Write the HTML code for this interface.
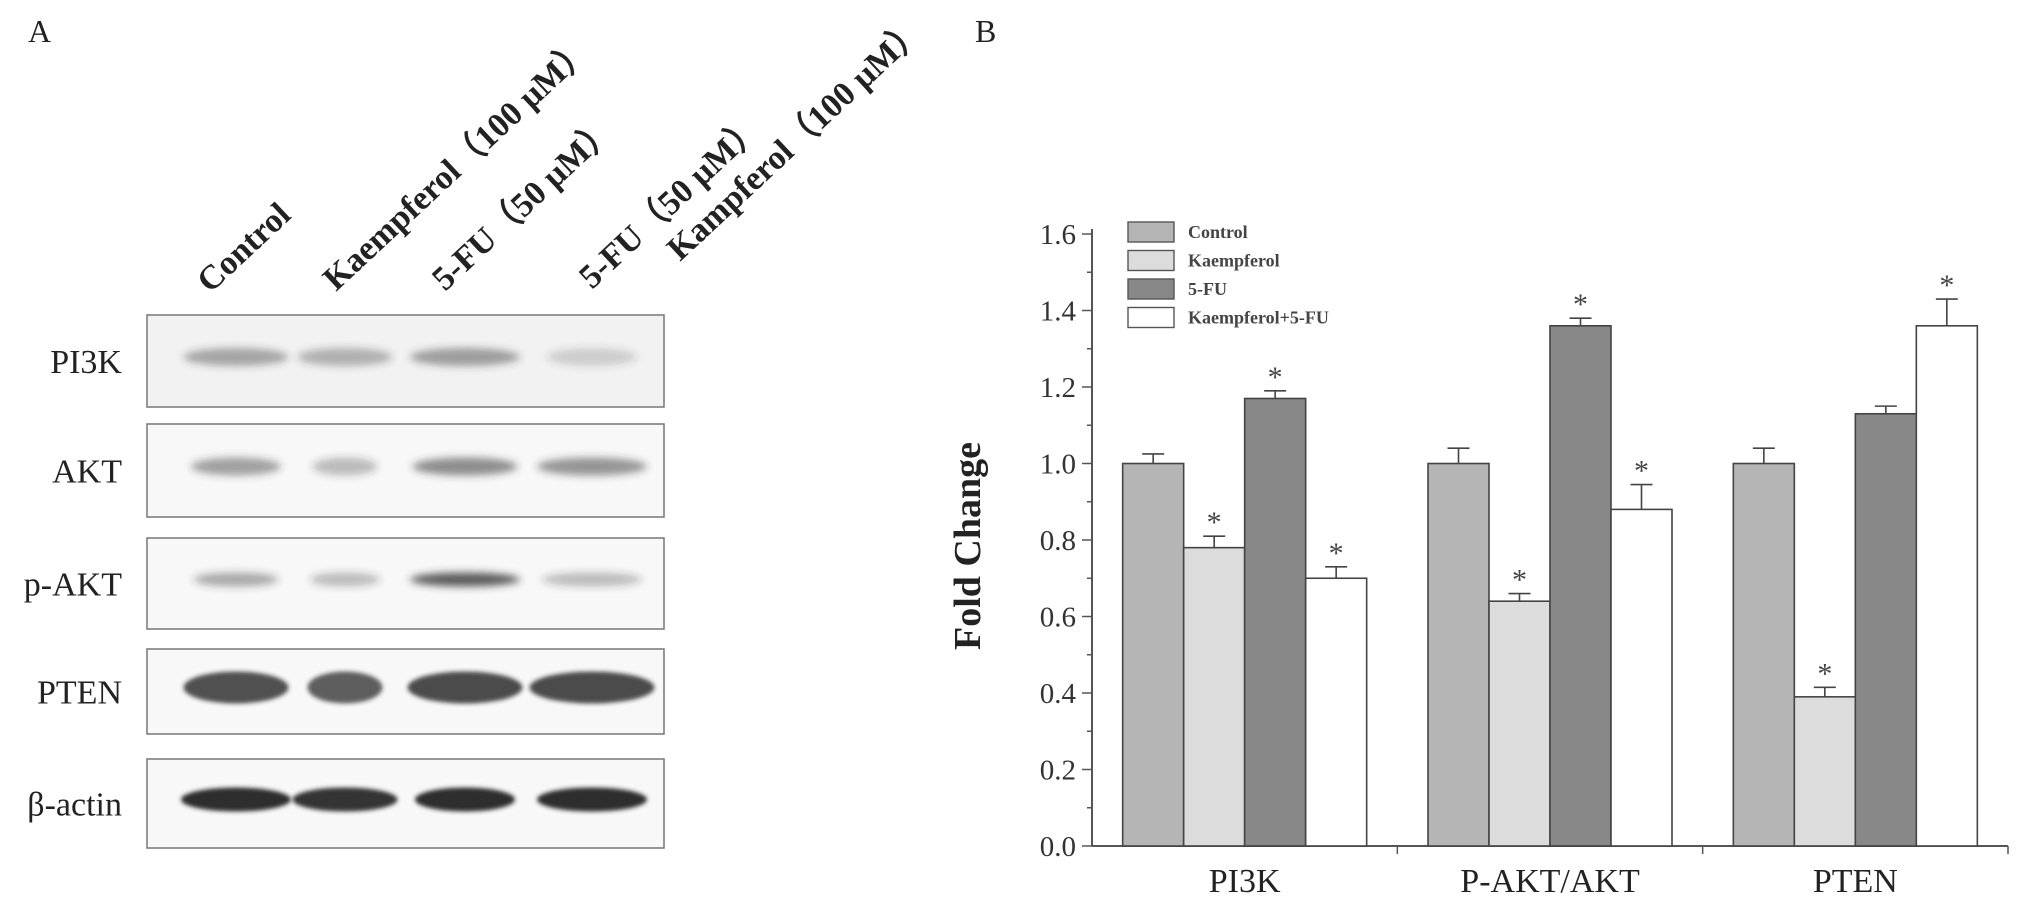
<!DOCTYPE html>
<html><head><meta charset="utf-8"><style>
html,body{margin:0;padding:0;background:#fff;width:2031px;height:900px;overflow:hidden}
svg{display:block;font-family:"Liberation Serif",serif}
</style></head><body>
<svg id="root" width="2031" height="900" viewBox="0 0 2031 900">
<defs>
<filter id="blur4" x="-20%" y="-100%" width="140%" height="300%"><feGaussianBlur stdDeviation="4"/></filter>
<filter id="blur2" x="-20%" y="-100%" width="140%" height="300%"><feGaussianBlur stdDeviation="2"/></filter>
</defs>
<g>
<text x="28" y="42" font-size="32" fill="#222">A</text>
<g font-size="34" font-weight="bold" fill="#222">
<text transform="translate(210,294) rotate(-43)">Control</text>
<text transform="translate(336,292) rotate(-43)">Kaempferol（100 µM）</text>
<text transform="translate(445,292) rotate(-43)">5-FU（50 µM）</text>
<text transform="translate(592,290) rotate(-43)">5-FU（50 µM）</text>
<text transform="translate(680,262) rotate(-43)">Kampferol（100 µM）</text>
</g>
<g id="blots"></g>
</g>
<g>
<text x="975" y="42" font-size="32" fill="#222">B</text>
<text transform="translate(980,546) rotate(-90)" text-anchor="middle" font-size="38" font-weight="bold" fill="#222">Fold Change</text>
<g id="chart"></g>
</g>
</svg>
<script>
const NS='http://www.w3.org/2000/svg';
function mk(tag,attrs,parent){const e=document.createElementNS(NS,tag);for(const k in attrs)e.setAttribute(k,attrs[k]);parent.appendChild(e);return e;}
// ---- chart data ----
const categories=['PI3K','P-AKT/AKT','PTEN'];
const seriesNames=['Control','Kaempferol','5-FU','Kaempferol+5-FU'];
const controlVals=[1.0,1.0,1.0];
const kaempVals=[0.78,0.64,0.39];
const fuVals=[1.17,1.36,1.13];
const comboVals=[0.70,0.88,1.36];
const controlErr=[0.025,0.04,0.04];
const kaempErr=[0.03,0.02,0.025];
const fuErr=[0.02,0.02,0.02];
const comboErr=[0.03,0.065,0.07];
const controlSig=[false,false,false];
const kaempSig=[true,true,true];
const fuSig=[true,true,false];
const comboSig=[true,true,true];
const yTicks=['0.0','0.2','0.4','0.6','0.8','1.0','1.2','1.4','1.6'];
// ---- layout ----
const X0=1092,X1=2008,Y0=846,YTOP=234,YMAX=1.6;
const colors=['#b5b5b5','#dcdcdc','#888888','#ffffff'];
const yS=v=>Y0-(v/YMAX)*(Y0-YTOP);
const groupW=(X1-X0)/categories.length;
const barW=61;
const xS=(g,s)=>X0+groupW*(g+0.5)-2*barW+s*barW;
const chart=document.getElementById('chart');
const allVals=[controlVals,kaempVals,fuVals,comboVals];
const allErr=[controlErr,kaempErr,fuErr,comboErr];
const allSig=[controlSig,kaempSig,fuSig,comboSig];
const seriesKeys=['control','kaempferol','5fu','combo'];
let ax=mk('line',{x1:X0,y1:Y0,x2:X0,y2:YTOP-5,stroke:'#555','stroke-width':2},chart);

let xa=mk('line',{x1:X0,y1:Y0,x2:X1,y2:Y0,stroke:'#555','stroke-width':2},chart);

for(let i=0;i<=16;i++){
  const v=i*0.1,y=yS(v);
  const t=mk('line',{x1:X0-(i%2?5:10),y1:y,x2:X0,y2:y,stroke:'#555','stroke-width':1.5},chart);
  
}
yTicks.forEach((lab,i)=>{
  const v=parseFloat(lab);
  const t=mk('text',{x:X0-16,y:yS(v)+10,'text-anchor':'end','font-size':29,fill:'#333'},chart);
  t.textContent=lab;
  
});
for(let g=1;g<=categories.length;g++){
  const x=X0+groupW*g;
  const t=mk('line',{x1:x,y1:Y0,x2:x,y2:Y0+8,stroke:'#555','stroke-width':1.5},chart);
  
}
categories.forEach((c,g)=>{
  const t=mk('text',{x:X0+groupW*(g+0.5),y:Y0+46,'text-anchor':'middle','font-size':34,fill:'#222'},chart);
  t.textContent=c;
  
});
allVals.forEach((vals,s)=>{
  vals.forEach((v,g)=>{
    const x=xS(g,s),y=yS(v);
    const r=mk('rect',{x:x,y:y,width:barW,height:Y0-y,fill:colors[s],stroke:'#444','stroke-width':1.6},chart);
    
    
    const ey=yS(v+allErr[s][g]),cx=x+barW/2;
    const e1=mk('line',{x1:cx,y1:y,x2:cx,y2:ey,stroke:'#444','stroke-width':1.6},chart);
    
    const e2=mk('line',{x1:cx-11,y1:ey,x2:cx+11,y2:ey,stroke:'#444','stroke-width':1.6},chart);
    
    if(allSig[s][g]){
      const st=mk('text',{x:cx,y:ey-4,'text-anchor':'middle','font-size':30,fill:'#444'},chart);
      st.textContent='*';
      
    }
  });
});
seriesNames.forEach((n,s)=>{
  const y=222+s*28.5;
  const r=mk('rect',{x:1128,y:y,width:46,height:20,fill:colors[s],stroke:'#555','stroke-width':1.4},chart);
  
  const t=mk('text',{x:1188,y:y+16,'font-size':18,'font-weight':'bold',fill:'#444'},chart);
  t.textContent=n;
  
});
// ---- blots (panel A) ----
const blotLabels=['PI3K','AKT','p-AKT','PTEN','β-actin'];
const blotTop=[315,424,538,649,759];
const blotBottom=[407,517,629,734,848];
const laneCenters=[236,345,465,592];
const bandIntensity=[[0.4,0.35,0.45,0.2],[0.45,0.3,0.55,0.5],[0.4,0.3,0.8,0.3],[0.78,0.72,0.8,0.8],[0.95,0.92,0.95,0.95]];
const bandWidth=[[105,95,110,90],[90,65,105,110],[85,70,110,100],[105,75,115,125],[110,105,100,110]];
const bandH=[9,9,7,16,12];
const blots=document.getElementById('blots');
blotLabels.forEach((lab,i)=>{
  const g=mk('g',{},blots);
  
  
  mk('rect',{x:147,y:blotTop[i],width:517,height:blotBottom[i]-blotTop[i],fill:i==0?'#f2f2f2':'#f8f8f8',stroke:'#777','stroke-width':1.5},g);
  const cy=(blotTop[i]+blotBottom[i])/2-4;
  laneCenters.forEach((cx,l)=>{
    const a=bandIntensity[i][l];
    mk('ellipse',{cx:cx,cy:cy,rx:bandWidth[i][l]/2,ry:bandH[i],fill:i>=3?'#222':'#333','fill-opacity':a,filter:i>=3?'url(#blur2)':'url(#blur4)'},g);
  });
  const t=mk('text',{x:122,y:(blotTop[i]+blotBottom[i])/2+12,'text-anchor':'end','font-size':34,fill:'#222'},g);
  t.textContent=lab;
  
});
</script>
</body></html>
